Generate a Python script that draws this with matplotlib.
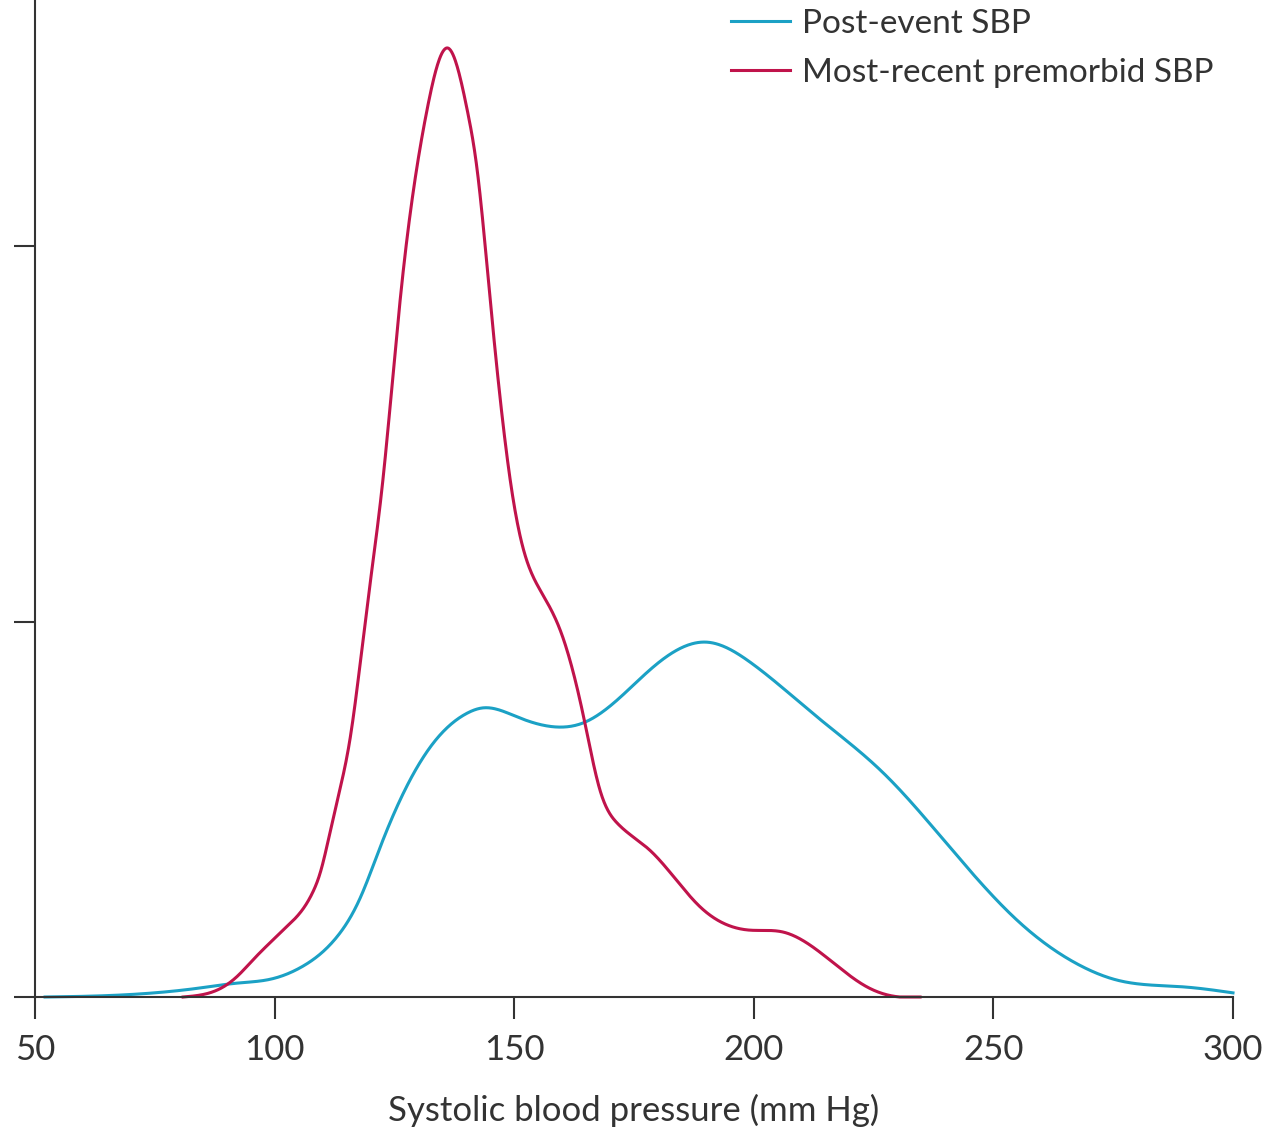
import numpy as np
import matplotlib
matplotlib.use("Agg")
import matplotlib.pyplot as plt

plt.rcParams['font.family'] = ['Lato', 'DejaVu Sans']

# Post-event SBP (density, arbitrary units; y ticks at 1 and 2)
post_x = [52.1, 63.6, 84.4, 92.2, 99.0, 105.9, 113.0, 117.8, 122.0, 126.2, 133.1, 140.2,
          143.5, 150.6, 158.9, 164.4, 171.5, 178.3, 190.2, 199.2, 213.2, 227.0, 240.9,
          254.9, 268.7, 275.8, 289.6, 300.0]
post_y = [0.0, 0.003, 0.024, 0.037, 0.047, 0.082, 0.160, 0.262, 0.398, 0.525, 0.676, 0.756,
          0.770, 0.746, 0.719, 0.730, 0.791, 0.871, 0.945, 0.892, 0.746, 0.597, 0.399,
          0.205, 0.080, 0.045, 0.027, 0.011]

# Most-recent premorbid SBP
pre_x = [80.9, 84.4, 88.6, 92.2, 95.5, 99.0, 102.6, 105.9, 108.0, 109.5, 111.6, 113.6,
         115.7, 119.3, 122.6, 126.2, 129.7, 131.8, 136.2, 140.2, 142.2, 145.0, 149.8,
         151.8, 155.4, 159.6, 164.4, 167.9, 171.5, 178.3, 188.8, 199.2, 206.1, 213.2,
         223.6, 230.5, 234.7]
pre_y = [0.0, 0.005, 0.022, 0.055, 0.099, 0.144, 0.188, 0.234, 0.280, 0.330, 0.440, 0.551,
         0.684, 1.039, 1.377, 1.856, 2.210, 2.362, 2.527, 2.362, 2.210, 1.856, 1.324,
         1.198, 1.084, 0.977, 0.751, 0.551, 0.463, 0.391, 0.240, 0.178, 0.173, 0.125,
         0.027, 0.0, 0.0]

x_ticks = [50, 100, 150, 200, 250, 300]
y_ticks = [0, 1, 2]
x_label = "Systolic blood pressure (mm Hg)"
labels = ["Post-event SBP", "Most-recent premorbid SBP"]


def spline(x, y, xn):
    """Natural cubic spline through the read points (rendering only)."""
    x = np.asarray(x, float); y = np.asarray(y, float)
    n = len(x); h = np.diff(x)
    A = np.zeros((n, n)); b = np.zeros(n)
    A[0, 0] = 1; A[-1, -1] = 1
    for i in range(1, n - 1):
        A[i, i - 1] = h[i - 1]; A[i, i] = 2 * (h[i - 1] + h[i]); A[i, i + 1] = h[i]
        b[i] = 3 * ((y[i + 1] - y[i]) / h[i] - (y[i] - y[i - 1]) / h[i - 1])
    c = np.linalg.solve(A, b)
    bb = (y[1:] - y[:-1]) / h - h * (2 * c[:-1] + c[1:]) / 3
    d = (c[1:] - c[:-1]) / (3 * h)
    idx = np.clip(np.searchsorted(x, xn) - 1, 0, n - 2)
    t = xn - x[idx]
    return np.clip(y[idx] + bb[idx] * t + c[idx] * t**2 + d[idx] * t**3, 0, None)


fig = plt.figure(figsize=(12.69, 11.29), dpi=100)
ax = fig.add_axes([35 / 1269, 1 - 997 / 1129, (1233 - 35) / 1269, 997 / 1129])

blue = '#1ba1c5'
red = '#c0134b'
xs = np.linspace(post_x[0], post_x[-1], 1200)
ax.plot(xs, spline(post_x, post_y, xs), color=blue, lw=2.2, label=labels[0], clip_on=False)
xr = np.linspace(pre_x[0], pre_x[-1], 1200)
ax.plot(xr, spline(pre_x, pre_y, xr), color=red, lw=2.2, label=labels[1], clip_on=False)

ax.set_xlim(50, 300)
ax.set_ylim(0, 997 / 375.5)
ax.set_xticks(x_ticks)
ax.set_xticklabels([str(v) for v in x_ticks])
ax.set_yticks(y_ticks)
ax.set_yticklabels([])
for s in ['top', 'right']:
    ax.spines[s].set_visible(False)
for s in ['left', 'bottom']:
    ax.spines[s].set_color('#333333')
    ax.spines[s].set_linewidth(1.5)
ax.tick_params(axis='x', length=16, width=1.5, color='#333333', labelsize=25,
               labelcolor='#333333', pad=11)
ax.tick_params(axis='y', length=15, width=1.5, color='#333333')
ax.set_xlabel(x_label, fontsize=25, color='#333333', labelpad=20)

leg = ax.legend(loc='upper left', bbox_to_anchor=((731 - 35) / 1198, 1 - 9 / 997),
                frameon=False, fontsize=24, handlelength=1.78, handletextpad=0.35,
                labelspacing=0.57, borderaxespad=0, borderpad=0)
for t in leg.get_texts():
    t.set_color('#333333')

fig.savefig('out.png', dpi=100)
